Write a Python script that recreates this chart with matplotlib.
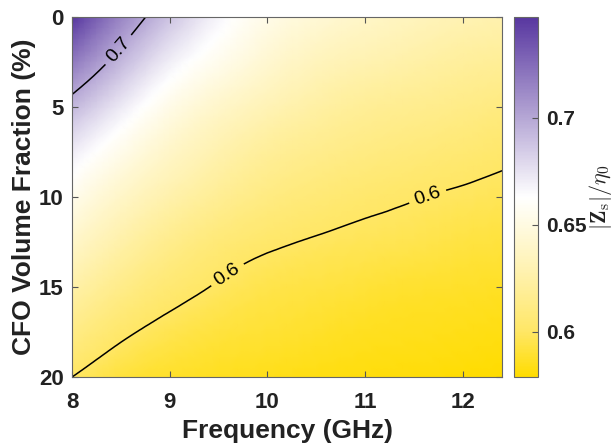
import numpy as np
import matplotlib.pyplot as plt
import matplotlib.tri as mtri
from matplotlib.colors import LinearSegmentedColormap

plt.rcParams['font.family'] = ['Liberation Sans', 'DejaVu Sans']
plt.rcParams['mathtext.fontset'] = 'cm'

# frequency sweep (GHz) and CFO volume fraction (%)
freq = [8.0, 8.5, 9.0, 9.5, 10.0, 10.5, 11.0, 11.5, 12.0, 12.4]
frac = [0, 2.5, 5, 7.5, 10, 12.5, 15, 17.5, 20]

# normalised surface impedance |Zs|/eta0, one row per volume fraction
zs_0 = [0.747, 0.714, 0.688, 0.667, 0.653, 0.645, 0.639, 0.634, 0.630, 0.628]
zs_2 = [0.719, 0.693, 0.670, 0.655, 0.643, 0.634, 0.629, 0.625, 0.621, 0.619]
zs_5 = [0.693, 0.672, 0.653, 0.640, 0.631, 0.624, 0.619, 0.616, 0.613, 0.610]
zs_7 = [0.671, 0.654, 0.639, 0.628, 0.620, 0.615, 0.611, 0.608, 0.605, 0.6025]
zs_10 = [0.655, 0.639, 0.627, 0.618, 0.611, 0.6065, 0.603, 0.6005, 0.5985, 0.597]
zs_12 = [0.640, 0.626, 0.615, 0.607, 0.602, 0.599, 0.597, 0.5955, 0.593, 0.592]
zs_15 = [0.626, 0.614, 0.605, 0.599, 0.595, 0.593, 0.591, 0.589, 0.588, 0.587]
zs_17 = [0.613, 0.6025, 0.596, 0.592, 0.590, 0.588, 0.586, 0.585, 0.584, 0.583]
zs_20 = [0.600, 0.592, 0.588, 0.586, 0.5845, 0.583, 0.582, 0.581, 0.580, 0.579]

levels = [0.6, 0.7]
cbar_ticks = [0.6, 0.65, 0.7]

Z = np.array([zs_0, zs_2, zs_5, zs_7, zs_10, zs_12, zs_15, zs_17, zs_20])
F, P = np.meshgrid(freq, frac)

# smooth surface through the grid for shading and contours
tri = mtri.Triangulation(F.ravel(), P.ravel())
interp = mtri.CubicTriInterpolator(tri, Z.ravel(), kind='min_E')
tri_f, z_f = mtri.UniformTriRefiner(tri).refine_field(Z.ravel(), triinterpolator=interp, subdiv=3)

cmap = LinearSegmentedColormap.from_list('ywp', [
    (0.0, (1.0, 0.863, 0.0)),
    (0.125, (1.0, 0.905, 0.40)),
    (0.3, (1.0, 0.95, 0.70)),
    (0.5, (1.0, 1.0, 1.0)),
    (1.0, (0.345, 0.216, 0.627)),
])

fig = plt.figure(figsize=(6.13, 4.48), dpi=100)
ax = fig.add_axes([0.1175, 0.1585, 0.7015, 0.8036])
cax = fig.add_axes([0.8385, 0.1585, 0.039, 0.8036])

ax.set_xlim(8, 12.4)
ax.set_ylim(20, 0)

pc = ax.tripcolor(tri_f, z_f, shading='gouraud', cmap=cmap, vmin=0.579, vmax=0.747)
cs = ax.tricontour(tri_f, z_f, levels=levels, colors='k', linewidths=1.1)
ax.clabel(cs, fmt='%.1f', fontsize=14, inline=True, inline_spacing=6,
          manual=[(8.47, 1.8), (9.6, 14.4), (11.64, 10.0)])

ax.set_xticks([8, 9, 10, 11, 12])
ax.set_yticks([0, 5, 10, 15, 20])
ax.tick_params(direction='in', length=4, labelsize=16, top=True, right=True,
               color='#555555', pad=6)
ax.tick_params(axis='x', pad=11)
for lab in ax.get_xticklabels() + ax.get_yticklabels():
    lab.set_fontweight('bold')
    lab.set_color('#222222')
for s in ax.spines.values():
    s.set_color('#666666')
    s.set_linewidth(0.8)

ax.set_xlabel('Frequency (GHz)', fontsize=19, fontweight='bold', color='#222222', labelpad=4)
ax.set_ylabel('CFO Volume Fraction (%)', fontsize=19, fontweight='bold', color='#222222', labelpad=2)

cb = fig.colorbar(pc, cax=cax, ticks=cbar_ticks)
cb.outline.set_edgecolor('#666666')
cb.outline.set_linewidth(0.8)
cax.tick_params(direction='in', length=4, labelsize=15, color='#555555', pad=6)
cax.set_yticklabels(['0.6', '0.65', '0.7'], fontweight='bold', color='#222222')
cb.set_label(r'$|\mathbf{Z}_\mathrm{s}|/\eta_0$', fontsize=16, color='#222222', labelpad=0)

fig.savefig('out.png', dpi=100)
